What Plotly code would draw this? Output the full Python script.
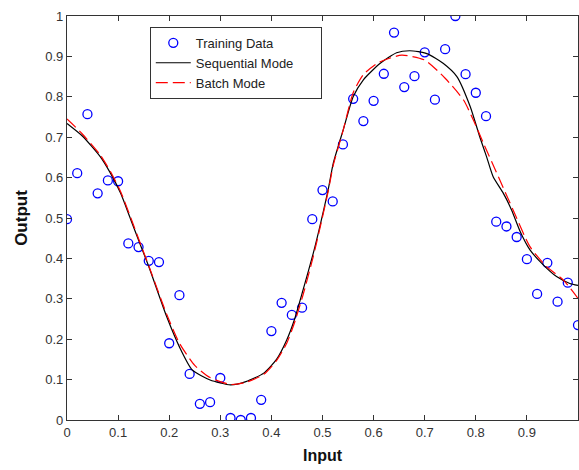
import plotly.graph_objects as go

# Training data (x = 0, 0.02, ..., 1)
train_x = [round(i * 0.02, 2) for i in range(51)]
train_y = [0.497, 0.611, 0.757, 0.561, 0.593, 0.591, 0.437, 0.428, 0.394, 0.391,
           0.190, 0.309, 0.114, 0.040, 0.044, 0.104, 0.005, 0.000, 0.005, 0.050,
           0.220, 0.290, 0.260, 0.278, 0.497, 0.569, 0.541, 0.682, 0.795, 0.740,
           0.790, 0.857, 0.959, 0.824, 0.851, 0.910, 0.793, 0.918, 1.000, 0.856,
           0.810, 0.752, 0.491, 0.479, 0.453, 0.398, 0.312, 0.389, 0.293, 0.340,
           0.235]

# Sequential mode network output
seq_x = [0, 0.03, 0.065, 0.085, 0.105, 0.125, 0.145, 0.16, 0.195, 0.22, 0.245, 0.28,
         0.32, 0.35, 0.385, 0.41, 0.43, 0.445, 0.462, 0.482, 0.495, 0.511, 0.521, 0.541,
         0.56, 0.58, 0.613, 0.645, 0.671, 0.704, 0.736, 0.763, 0.789, 0.808, 0.821,
         0.834, 0.854, 0.87, 0.887, 0.906, 0.932, 0.958, 0.984, 1.0]
seq_y = [0.734, 0.703, 0.652, 0.611, 0.561, 0.495, 0.429, 0.38, 0.256, 0.181, 0.124, 0.099,
         0.087, 0.095, 0.116, 0.15, 0.198, 0.248, 0.322, 0.413, 0.48, 0.569, 0.635, 0.72,
         0.80, 0.842, 0.883, 0.909, 0.914, 0.907, 0.883, 0.85, 0.776, 0.70, 0.652,
         0.602, 0.561, 0.52, 0.466, 0.421, 0.384, 0.355, 0.338, 0.333]

# Batch mode network output
bat_x = [0, 0.03, 0.065, 0.085, 0.105, 0.125, 0.145, 0.16, 0.195, 0.22, 0.25, 0.28,
         0.32, 0.35, 0.385, 0.41, 0.43, 0.445, 0.462, 0.482, 0.495, 0.511, 0.521, 0.541,
         0.56, 0.58, 0.61, 0.655, 0.70, 0.74, 0.776, 0.795, 0.815, 0.847, 0.873, 0.906,
         0.939, 0.971, 1.0]
bat_y = [0.745, 0.708, 0.656, 0.615, 0.565, 0.50, 0.432, 0.382, 0.262, 0.19, 0.135, 0.105,
         0.088, 0.093, 0.113, 0.147, 0.19, 0.24, 0.31, 0.405, 0.475, 0.565, 0.63, 0.72,
         0.81, 0.855, 0.885, 0.903, 0.891, 0.846, 0.792, 0.743, 0.685, 0.594, 0.52, 0.429,
         0.379, 0.347, 0.301]

tick_vals = [i / 10 for i in range(11)]
tick_text = ["0", "0.1", "0.2", "0.3", "0.4", "0.5", "0.6", "0.7", "0.8", "0.9", "1"]

fig = go.Figure()
fig.add_trace(go.Scatter(
    x=train_x, y=train_y, mode="markers", name="Training Data",
    marker=dict(symbol="circle-open", size=9, color="#0000ff", line=dict(width=1.3, color="#0000ff")),
))
fig.add_trace(go.Scatter(
    x=seq_x, y=seq_y, mode="lines", name="Sequential Mode" + "\u00a0" * 6,
    line=dict(color="#000000", width=1.2, shape="spline", smoothing=0.6),
))
fig.add_trace(go.Scatter(
    x=bat_x, y=bat_y, mode="lines", name="Batch Mode",
    line=dict(color="#ff0000", width=1.2, dash="12px,5px", shape="spline", smoothing=0.6),
))

axis_common = dict(
    range=[0, 1], tickvals=tick_vals, ticktext=tick_text,
    ticks="inside", ticklen=5, tickcolor="#333333",
    showline=True, linecolor="#333333", linewidth=1.2, mirror="ticks",
    showgrid=False, zeroline=False,
    tickfont=dict(family="Liberation Sans, Arial, sans-serif", size=13, color="#333333"),
)

fig.update_layout(
    width=579, height=470,
    margin=dict(l=67, r=1, t=16, b=50),
    paper_bgcolor="white", plot_bgcolor="white",
    font=dict(family="Liberation Sans, Arial, sans-serif", color="#222222"),
    xaxis=dict(**axis_common,
               title=dict(text="<b>Input</b>", font=dict(size=16, color="#111111"), standoff=11)),
    yaxis=dict(**axis_common,
               title=dict(text="<b>Output</b>", font=dict(size=17, color="#111111"), standoff=13)),
    legend=dict(
        x=0.162, y=0.973, xanchor="left", yanchor="top",
        bgcolor="white", bordercolor="#333333", borderwidth=1,
        font=dict(family="Liberation Sans, Arial, sans-serif", size=13, color="#222222"),
        tracegroupgap=0, itemwidth=35,
    ),
    showlegend=True,
)

fig.write_html("out.html")
